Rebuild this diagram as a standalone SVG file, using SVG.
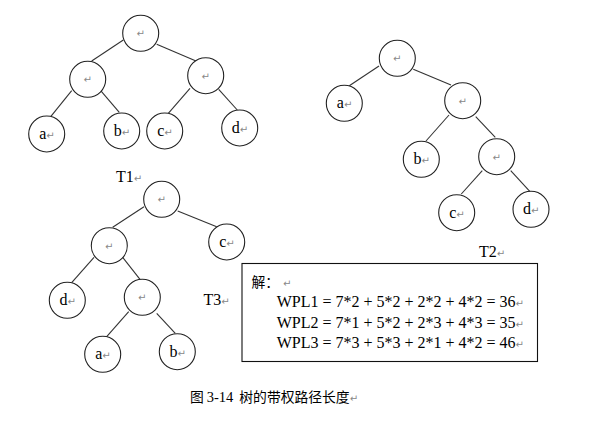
<svg xmlns="http://www.w3.org/2000/svg" width="604" height="422" viewBox="0 0 604 422">
<style>
.n{fill:#fff;stroke:#222;stroke-width:1.1}
.e{stroke:#333;stroke-width:1.1;fill:none}
.t{font-family:"Liberation Serif","Times New Roman",serif;font-size:16px;fill:#000}
.l{font-family:"Liberation Serif",serif;font-size:16px;fill:#000;text-anchor:middle}
.p{font-family:"DejaVu Sans",sans-serif;font-size:10px;fill:#888}
.pm{font-family:"DejaVu Sans",sans-serif;font-size:10px;fill:#888;text-anchor:middle}
.cn{font-family:"Noto Sans CJK SC",sans-serif;font-size:13.8px;fill:#000}
</style>
<rect width="604" height="422" fill="#fff"/>
<g id="connectors">
<line class="e" x1="123.3" y1="40" x2="91.7" y2="61"/>
<line class="e" x1="156.7" y1="44.3" x2="196" y2="61"/>
<line class="e" x1="71.7" y1="90.7" x2="50.7" y2="116.7"/>
<line class="e" x1="100.7" y1="90.7" x2="119.3" y2="112.3"/>
<line class="e" x1="190" y1="88.3" x2="168.3" y2="113.3"/>
<line class="e" x1="218.7" y1="89.3" x2="237.3" y2="110"/>
<line class="e" x1="379" y1="66" x2="349.3" y2="85.7"/>
<line class="e" x1="413.3" y1="69.3" x2="451" y2="85"/>
<line class="e" x1="449" y1="115" x2="426" y2="141"/>
<line class="e" x1="475.7" y1="116.7" x2="495.3" y2="137.3"/>
<line class="e" x1="482.3" y1="170.7" x2="461.3" y2="194"/>
<line class="e" x1="510.7" y1="170.7" x2="530" y2="191.7"/>
<line class="e" x1="144" y1="206.7" x2="112.7" y2="227.3"/>
<line class="e" x1="177.7" y1="211" x2="216.7" y2="226.7"/>
<line class="e" x1="94" y1="257.3" x2="71.7" y2="282.7"/>
<line class="e" x1="122.7" y1="257.3" x2="140" y2="279.3"/>
<line class="e" x1="128.7" y1="311.7" x2="106.7" y2="336.7"/>
<line class="e" x1="156.7" y1="313.3" x2="175.3" y2="333.3"/>
</g>
<g id="t1-root"><circle class="n" cx="140.7" cy="33.3" r="18"/><text class="pm" x="140.7" y="37">↵</text></g>
<g id="t1-left"><circle class="n" cx="87.7" cy="79.3" r="18"/><text class="pm" x="87.7" y="83">↵</text></g>
<g id="t1-right"><circle class="n" cx="205.7" cy="75.7" r="18"/><text class="pm" x="205.7" y="79.5">↵</text></g>
<g id="t1-a"><circle class="n" cx="46.7" cy="134" r="18"/><text class="l" x="47" y="139">a<tspan class="p">↵</tspan></text></g>
<g id="t1-b"><circle class="n" cx="121.7" cy="131" r="18"/><text class="l" x="122" y="136">b<tspan class="p">↵</tspan></text></g>
<g id="t1-c"><circle class="n" cx="164.7" cy="131" r="18"/><text class="l" x="165" y="136">c<tspan class="p">↵</tspan></text></g>
<g id="t1-d"><circle class="n" cx="239.7" cy="128" r="18"/><text class="l" x="240" y="133">d<tspan class="p">↵</tspan></text></g>
<text class="t" x="116" y="182">T1<tspan class="p">↵</tspan></text>

<g id="t2-root"><circle class="n" cx="397.3" cy="58.3" r="18"/><text class="pm" x="397.3" y="62">↵</text></g>
<g id="t2-a"><circle class="n" cx="344.3" cy="103.3" r="18"/><text class="l" x="344.6" y="108">a<tspan class="p">↵</tspan></text></g>
<g id="t2-r"><circle class="n" cx="462.7" cy="100.7" r="18"/><text class="pm" x="462.7" y="104.5">↵</text></g>
<g id="t2-b"><circle class="n" cx="421.3" cy="159.3" r="18"/><text class="l" x="421.6" y="164">b<tspan class="p">↵</tspan></text></g>
<g id="t2-rr"><circle class="n" cx="496.7" cy="156.7" r="18"/><text class="pm" x="496.7" y="160.5">↵</text></g>
<g id="t2-c"><circle class="n" cx="456.7" cy="212.7" r="18"/><text class="l" x="457" y="217.5">c<tspan class="p">↵</tspan></text></g>
<g id="t2-d"><circle class="n" cx="531" cy="209.3" r="18"/><text class="l" x="531.3" y="214">d<tspan class="p">↵</tspan></text></g>
<text class="t" x="479" y="257">T2<tspan class="p">↵</tspan></text>

<g id="t3-root"><circle class="n" cx="161.7" cy="199.3" r="18"/><text class="pm" x="161.7" y="203">↵</text></g>
<g id="t3-l"><circle class="n" cx="109.3" cy="245.7" r="18"/><text class="pm" x="109.3" y="249.5">↵</text></g>
<g id="t3-c"><circle class="n" cx="226.7" cy="242" r="18"/><text class="l" x="227" y="247">c<tspan class="p">↵</tspan></text></g>
<g id="t3-d"><circle class="n" cx="67.3" cy="300.3" r="18"/><text class="l" x="67.6" y="305">d<tspan class="p">↵</tspan></text></g>
<g id="t3-lr"><circle class="n" cx="142.3" cy="297.3" r="18"/><text class="pm" x="142.3" y="301">↵</text></g>
<g id="t3-a"><circle class="n" cx="102.7" cy="354.3" r="18"/><text class="l" x="103" y="359">a<tspan class="p">↵</tspan></text></g>
<g id="t3-b"><circle class="n" cx="177.3" cy="351.7" r="18"/><text class="l" x="177.6" y="356.5">b<tspan class="p">↵</tspan></text></g>
<text class="t" x="203.5" y="305">T3<tspan class="p">↵</tspan></text>

<g id="solution">
<rect x="242" y="263.5" width="295.5" height="98" fill="#fff" stroke="#111" stroke-width="1.1"/>
<text class="cn" x="251.5" y="287" font-size="15px">解：<tspan class="p" dx="4">↵</tspan></text>
<text class="t" x="276.7" y="306.7">WPL1 = 7*2 + 5*2 + 2*2 + 4*2 = 36<tspan class="p">↵</tspan></text>
<text class="t" x="276.7" y="327.7">WPL2 = 7*1 + 5*2 + 2*3 + 4*3 = 35<tspan class="p">↵</tspan></text>
<text class="t" x="276.7" y="348.3">WPL3 = 7*3 + 5*3 + 2*1 + 4*2 = 46<tspan class="p">↵</tspan></text>
</g>
<text class="cn" x="190" y="402">图<tspan x="206.7" font-family="Liberation Serif, serif" font-size="14.5px">3-14</tspan><tspan x="239.3">树的带权路径长度</tspan><tspan class="p">↵</tspan></text>
</svg>
